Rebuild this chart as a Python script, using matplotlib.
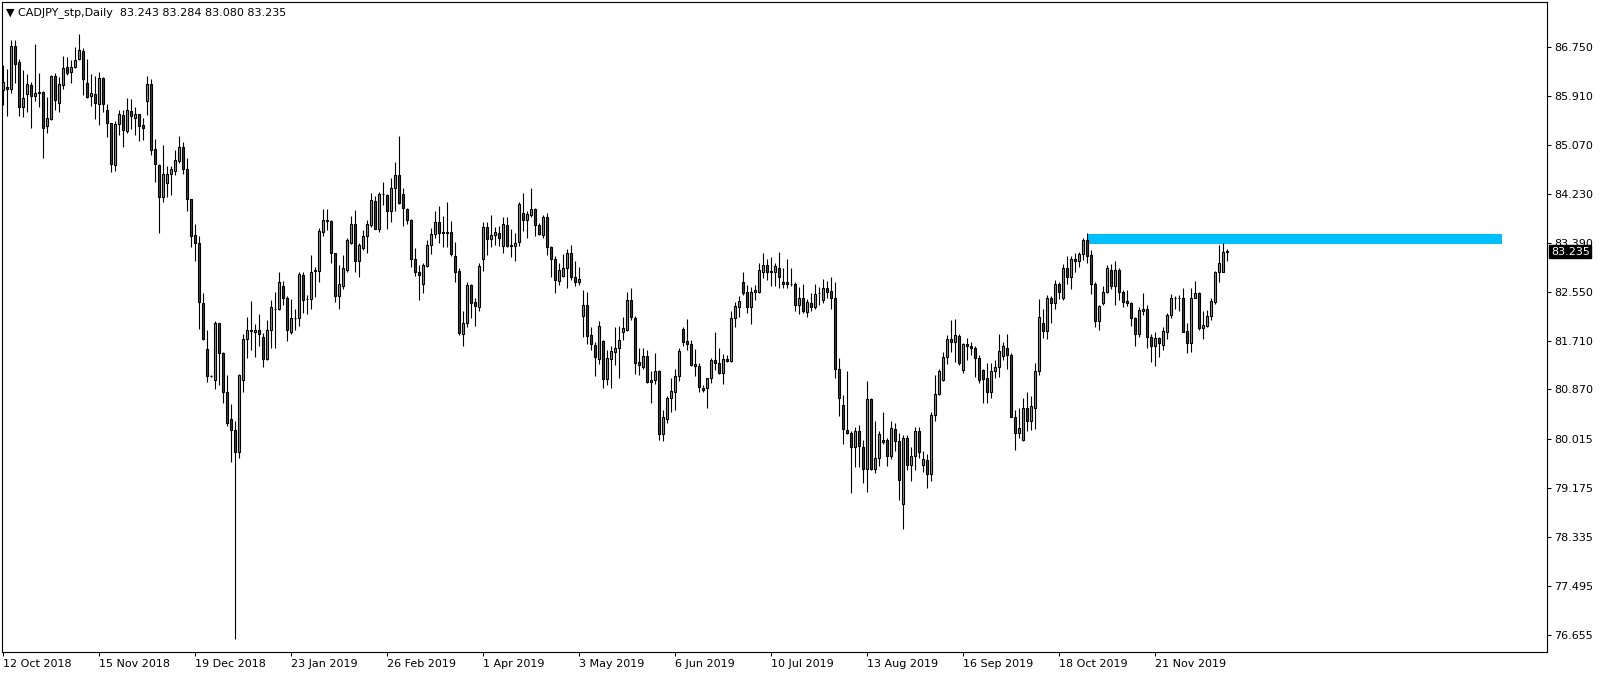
import numpy as np
import matplotlib.pyplot as plt
import matplotlib.transforms as mtransforms
from matplotlib.patches import Rectangle

# daily CADJPY bars, 12 Oct 2018 onwards
opens = [86.02, 86.07, 86.03, 86.77, 86.49, 85.72, 85.94, 86.10, 85.92, 85.97,
         85.98, 85.39, 85.51, 86.26, 85.80, 86.10, 86.41, 86.32, 86.41, 86.54,
         86.69, 86.13, 85.91, 85.94, 85.77, 86.22, 85.67, 85.44, 84.72, 85.43,
         85.59, 85.31, 85.65, 85.54, 85.60, 85.41, 85.83, 86.12, 85.00, 84.73,
         84.17, 84.41, 84.57, 84.63, 84.80, 85.03, 84.65, 84.14, 83.52, 83.38,
         82.35, 81.56, 81.11, 81.04, 82.01, 81.49, 80.82, 80.36, 80.17, 79.79,
         81.04, 81.73, 81.88, 81.85, 81.89, 81.77, 81.39, 81.89, 82.25, 82.25,
         82.64, 82.44, 81.86, 82.09, 82.09, 82.84, 82.42, 82.42, 82.91, 82.91,
         83.58, 83.77, 83.77, 83.21, 82.48, 82.64, 82.93, 83.39, 83.72, 83.07,
         83.30, 83.50, 83.70, 84.11, 83.63, 84.22, 84.21, 83.94, 84.34, 84.56,
         84.22, 83.97, 83.79, 83.12, 82.88, 82.68, 83.00, 83.35, 83.54, 83.74,
         83.56, 83.57, 83.57, 83.17, 82.91, 81.82, 82.01, 82.67, 82.37, 82.29,
         83.12, 83.66, 83.45, 83.52, 83.55, 83.34, 83.70, 83.34, 83.34, 83.41,
         83.91, 83.78, 83.86, 83.97, 83.70, 83.52, 83.84, 83.31, 83.12, 82.74,
         82.82, 82.95, 83.21, 82.81, 82.72, 82.14, 82.32, 81.81, 81.63, 81.39,
         81.70, 81.05, 81.39, 81.52, 81.58, 81.86, 81.89, 82.41, 82.10, 81.34,
         81.26, 81.45, 81.00, 81.03, 81.19, 80.10, 80.37, 80.72, 80.83, 81.11,
         81.91, 81.70, 81.66, 81.31, 81.27, 80.89, 80.89, 81.06, 81.38, 81.32,
         81.15, 81.39, 81.36, 82.09, 82.28, 82.71, 82.55, 82.28, 82.54, 82.55,
         82.89, 83.01, 82.90, 82.88, 82.95, 82.71, 82.71, 82.69, 82.69, 82.33,
         82.45, 82.20, 82.35, 82.28, 82.52, 82.40, 82.61, 82.56, 82.44, 81.22,
         80.60, 80.17, 80.13, 79.88, 80.16, 79.89, 79.50, 80.70, 79.50, 79.69,
         80.01, 80.01, 79.73, 80.19, 79.99, 78.91, 80.03, 79.58, 79.73, 80.16,
         79.57, 79.66, 79.42, 80.43, 80.79, 81.03, 81.42, 81.73, 81.69, 81.79,
         81.20, 81.65, 81.62, 81.59, 81.41, 81.21, 81.06, 80.82, 81.19, 81.25,
         81.45, 81.59, 81.47, 80.39, 80.13, 80.00, 80.55, 80.33, 80.55, 81.18,
         82.02, 81.88, 82.45, 82.36, 82.69, 82.45, 82.95, 82.81, 83.12, 83.07,
         83.20, 83.44, 83.18, 82.69, 82.04, 82.35, 82.54, 82.93, 82.65, 82.93,
         82.54, 82.39, 82.35, 82.09, 81.82, 82.22, 82.26, 81.78, 81.61, 81.75,
         81.63, 81.86, 82.15, 82.44, 82.44, 82.45, 81.88, 81.67, 82.45, 82.52,
         81.92, 81.96, 82.13, 82.38, 82.88, 82.89, 83.243]
highs = [86.45, 86.37, 86.87, 86.87, 86.54, 86.36, 86.29, 86.15, 86.81, 86.31,
         85.99, 85.90, 86.27, 86.30, 86.24, 86.60, 86.58, 86.53, 86.75, 86.98,
         86.73, 86.54, 86.29, 86.26, 86.33, 86.24, 85.78, 85.45, 85.49, 85.68,
         85.67, 85.88, 85.86, 85.72, 85.61, 85.53, 86.25, 86.20, 85.18, 84.74,
         85.07, 84.71, 84.71, 84.98, 85.22, 85.13, 84.84, 84.14, 83.71, 83.51,
         82.52, 81.90, 81.12, 82.05, 82.02, 81.52, 81.12, 80.62, 80.33, 81.13,
         81.82, 82.11, 82.39, 82.00, 82.17, 81.84, 82.06, 82.41, 82.55, 82.88,
         82.73, 82.48, 82.42, 82.25, 82.89, 82.89, 82.50, 83.18, 82.97, 83.64,
         83.97, 83.97, 83.78, 83.22, 83.01, 83.18, 83.47, 83.85, 83.95, 83.38,
         83.61, 83.79, 84.25, 84.19, 84.27, 84.44, 84.22, 84.50, 84.77, 85.23,
         84.33, 83.98, 83.80, 83.30, 83.01, 83.05, 83.44, 83.64, 83.94, 84.02,
         83.85, 84.09, 83.77, 83.41, 82.95, 82.22, 82.71, 82.68, 82.45, 83.04,
         83.75, 83.74, 83.87, 83.66, 83.68, 83.84, 83.84, 83.62, 83.56, 84.09,
         84.25, 83.94, 84.34, 83.99, 83.73, 83.87, 83.90, 83.34, 83.16, 83.05,
         83.20, 83.28, 83.35, 83.07, 82.98, 82.58, 82.55, 81.95, 81.69, 82.05,
         81.72, 81.54, 81.61, 81.95, 81.96, 82.12, 82.55, 82.61, 82.13, 81.59,
         81.59, 81.55, 81.18, 81.49, 81.21, 80.52, 80.75, 81.06, 81.22, 81.58,
         81.95, 82.08, 81.72, 81.57, 81.33, 80.95, 81.07, 81.41, 81.86, 81.59,
         81.48, 81.46, 82.22, 82.38, 82.47, 82.89, 82.67, 82.63, 82.67, 83.04,
         83.21, 83.11, 83.14, 83.05, 83.23, 82.95, 83.12, 82.95, 82.71, 82.63,
         82.69, 82.42, 82.52, 82.69, 82.63, 82.76, 82.73, 82.80, 82.72, 81.41,
         80.78, 81.18, 80.15, 80.22, 80.26, 80.01, 81.02, 80.72, 80.33, 80.15,
         80.49, 80.03, 80.32, 80.30, 80.13, 80.09, 80.09, 79.89, 80.23, 80.23,
         79.82, 79.76, 80.49, 81.12, 81.22, 81.52, 81.81, 82.06, 82.08, 81.83,
         81.67, 81.75, 81.69, 81.61, 81.46, 81.23, 81.32, 81.32, 81.38, 81.82,
         81.69, 81.82, 81.49, 80.52, 80.55, 80.72, 80.82, 80.75, 81.32, 82.43,
         82.25, 82.49, 82.48, 82.75, 82.72, 83.02, 83.16, 83.16, 83.22, 83.24,
         83.48, 83.55, 83.26, 82.71, 82.32, 82.64, 83.01, 83.03, 83.08, 82.95,
         82.58, 82.58, 82.38, 82.12, 82.28, 82.52, 82.32, 81.82, 81.86, 81.78,
         81.94, 82.18, 82.51, 82.48, 82.49, 82.61, 82.01, 82.61, 82.74, 82.55,
         82.22, 82.24, 82.44, 82.91, 83.35, 83.38, 83.284]
lows = [85.76, 85.56, 85.96, 86.14, 85.56, 85.55, 85.64, 85.36, 85.82, 85.72,
        84.84, 85.27, 85.50, 85.68, 85.63, 86.03, 86.27, 86.14, 86.40, 86.53,
        85.93, 85.87, 85.74, 85.51, 85.42, 85.64, 85.20, 84.60, 84.63, 85.25,
        85.04, 85.28, 85.35, 85.24, 85.14, 85.16, 85.59, 84.90, 84.44, 83.55,
        84.09, 84.18, 84.21, 84.55, 84.76, 84.58, 83.94, 83.32, 83.07, 81.91,
        81.72, 81.00, 81.09, 80.88, 80.95, 80.64, 80.25, 79.63, 76.59, 79.69,
        80.83, 81.41, 81.55, 81.42, 81.61, 81.26, 81.37, 81.58, 81.59, 82.24,
        82.32, 81.71, 81.82, 81.90, 81.96, 82.19, 82.17, 82.25, 82.46, 82.71,
        83.51, 83.61, 83.05, 82.38, 82.25, 82.59, 82.88, 83.37, 82.89, 82.80,
        83.26, 83.22, 83.67, 83.62, 83.58, 84.04, 83.62, 83.74, 83.94, 84.06,
        83.68, 83.72, 82.98, 82.82, 82.40, 82.53, 82.98, 83.20, 83.47, 83.38,
        83.32, 83.32, 83.16, 82.71, 81.81, 81.61, 81.95, 82.09, 81.96, 82.22,
        82.91, 83.18, 83.32, 83.35, 83.34, 83.21, 83.31, 83.15, 83.08, 83.34,
        83.60, 83.47, 83.84, 83.51, 83.52, 83.48, 83.18, 82.81, 82.53, 82.67,
        82.80, 82.61, 82.75, 82.65, 82.67, 81.77, 81.65, 81.55, 81.10, 81.31,
        80.90, 80.95, 80.90, 81.29, 81.07, 81.72, 81.88, 82.06, 81.14, 81.12,
        81.23, 80.98, 80.64, 80.96, 80.00, 79.98, 80.30, 80.49, 80.52, 81.02,
        81.61, 81.54, 81.27, 81.11, 80.83, 80.83, 80.56, 80.98, 81.21, 81.14,
        80.96, 81.35, 81.34, 81.95, 82.11, 82.49, 82.19, 82.00, 82.40, 82.52,
        82.78, 82.75, 82.64, 82.64, 82.61, 82.61, 82.61, 82.64, 82.22, 82.17,
        82.18, 82.12, 82.21, 82.26, 82.32, 82.35, 82.44, 82.26, 81.06, 80.41,
        79.93, 80.11, 79.09, 79.54, 79.54, 79.26, 79.11, 79.49, 79.44, 79.56,
        79.93, 79.56, 79.68, 79.81, 78.97, 78.48, 79.48, 79.30, 79.48, 79.69,
        79.46, 79.17, 79.30, 80.32, 80.78, 81.02, 81.30, 81.52, 81.35, 81.29,
        81.16, 81.38, 81.46, 81.09, 80.98, 80.64, 80.64, 80.72, 81.06, 81.09,
        81.38, 81.22, 80.39, 79.83, 80.03, 79.99, 80.15, 80.17, 80.19, 81.12,
        81.75, 81.73, 82.02, 82.26, 82.42, 82.41, 82.68, 82.59, 82.89, 82.98,
        83.10, 83.05, 82.51, 81.94, 81.90, 82.32, 82.52, 82.59, 82.32, 82.41,
        82.29, 82.30, 81.96, 81.61, 81.78, 82.15, 81.58, 81.35, 81.27, 81.43,
        81.55, 81.73, 82.09, 82.26, 82.21, 81.85, 81.50, 81.52, 82.44, 81.90,
        81.73, 81.95, 82.06, 82.34, 82.72, 82.88, 83.080]
closes = [86.16, 86.03, 86.77, 86.47, 85.72, 85.87, 86.12, 85.92, 85.96, 85.98,
          85.36, 85.53, 86.26, 85.84, 86.12, 86.39, 86.31, 86.41, 86.53, 86.70,
          86.20, 85.90, 85.96, 85.79, 86.22, 85.77, 85.44, 84.74, 85.43, 85.60,
          85.32, 85.68, 85.56, 85.60, 85.40, 85.37, 86.12, 84.98, 84.74, 84.17,
          84.57, 84.57, 84.66, 84.82, 85.03, 84.65, 84.14, 83.51, 83.38, 82.37,
          81.73, 81.11, 81.10, 82.02, 81.49, 80.82, 80.30, 80.17, 79.80, 81.12,
          81.73, 81.89, 81.89, 81.89, 81.82, 81.39, 81.90, 82.28, 82.26, 82.72,
          82.45, 81.89, 82.09, 82.10, 82.85, 82.41, 82.42, 82.89, 82.92, 83.60,
          83.79, 83.78, 83.21, 82.48, 82.68, 82.95, 83.44, 83.72, 83.07, 83.35,
          83.51, 83.71, 84.13, 83.63, 84.22, 84.23, 83.94, 84.34, 84.56, 84.08,
          83.98, 83.78, 83.12, 82.89, 82.83, 83.01, 83.36, 83.54, 83.74, 83.55,
          83.57, 83.56, 83.19, 82.89, 81.84, 82.02, 82.67, 82.36, 82.31, 82.99,
          83.66, 83.45, 83.52, 83.58, 83.47, 83.71, 83.34, 83.34, 83.39, 84.05,
          83.78, 83.89, 83.97, 83.70, 83.54, 83.84, 83.31, 83.12, 82.75, 82.92,
          82.95, 83.21, 82.81, 82.72, 82.76, 82.32, 81.79, 81.65, 81.43, 81.96,
          81.05, 81.41, 81.53, 81.58, 81.72, 81.92, 82.41, 82.11, 81.33, 81.29,
          81.45, 81.00, 81.04, 81.19, 80.10, 80.39, 80.72, 80.84, 81.11, 81.53,
          81.69, 81.66, 81.29, 81.27, 80.92, 80.86, 81.06, 81.38, 81.32, 81.15,
          81.39, 81.36, 82.09, 82.30, 82.39, 82.53, 82.28, 82.55, 82.58, 82.92,
          83.01, 82.89, 82.89, 82.99, 82.80, 82.68, 82.68, 82.68, 82.33, 82.45,
          82.21, 82.37, 82.28, 82.51, 82.53, 82.61, 82.55, 82.45, 81.22, 80.72,
          80.19, 80.12, 79.88, 80.16, 79.90, 79.50, 80.70, 79.50, 79.69, 80.10,
          79.96, 79.73, 80.20, 79.99, 79.31, 80.03, 79.58, 79.73, 80.16, 79.80,
          79.67, 79.42, 80.43, 80.80, 81.19, 81.42, 81.73, 81.69, 81.81, 81.33,
          81.65, 81.61, 81.59, 81.41, 81.04, 81.05, 80.82, 81.19, 81.25, 81.53,
          81.62, 81.47, 80.39, 80.13, 80.20, 80.56, 80.33, 80.59, 81.19, 82.12,
          81.88, 82.45, 82.36, 82.69, 82.55, 82.95, 82.81, 83.12, 83.07, 83.20,
          83.44, 83.17, 82.69, 82.04, 82.30, 82.54, 82.95, 82.65, 82.93, 82.55,
          82.38, 82.35, 82.09, 81.82, 82.24, 82.26, 81.78, 81.61, 81.75, 81.67,
          81.88, 82.15, 82.45, 82.45, 82.44, 81.86, 81.67, 82.45, 82.52, 81.92,
          81.98, 82.13, 82.39, 82.88, 83.04, 83.23, 83.235]

date_labels = ['12 Oct 2018', '15 Nov 2018', '19 Dec 2018', '23 Jan 2019', '26 Feb 2019',
               '1 Apr 2019', '3 May 2019', '6 Jun 2019', '10 Jul 2019', '13 Aug 2019',
               '16 Sep 2019', '18 Oct 2019', '21 Nov 2019']
price_ticks = [86.750, 85.910, 85.070, 84.230, 83.390, 82.550, 81.710,
               80.870, 80.015, 79.175, 78.335, 77.495, 76.655]

# resistance zone
zone_low = 83.375
zone_high = 83.54
zone_start = 271
zone_end = 374.7

W, H = 1604, 678
fig = plt.figure(figsize=(W / 100, H / 100), dpi=100)
ax = fig.add_axes([2 / W, 26 / H, 1545 / W, 650 / H])

o = np.array(opens)
h = np.array(highs)
l = np.array(lows)
c = np.array(closes)
x = np.arange(len(o))

ax.add_patch(Rectangle((zone_start, zone_low), zone_end - zone_start, zone_high - zone_low,
                       facecolor='#00bfff', edgecolor='none', zorder=1))

ax.vlines(x, l, h, color='black', lw=0.8, zorder=2)
cols = np.where(c > o, '#1ee01e', np.where(c < o, '#d00000', 'black'))
bottom = np.minimum(o, c)
height = np.maximum(np.abs(c - o), 0.004)
ax.bar(x, height, bottom=bottom, width=0.55, color=cols, edgecolor='black',
       linewidth=0.8, zorder=3)

ax.set_xlim(-0.33, 385.9)
ax.set_ylim(76.36, 87.527)

ax.yaxis.tick_right()
ax.set_yticks(price_ticks)
ax.set_yticklabels(['%.3f' % v for v in price_ticks])
ax.set_xticks(np.arange(0, 24 * len(date_labels), 24))
ax.set_xticklabels(date_labels, ha='left')
ax.tick_params(axis='both', labelsize=8, width=0.75, length=3, pad=2, colors='black')

for s in ax.spines.values():
    s.set_linewidth(0.8)

# last price tag
tr = mtransforms.blended_transform_factory(ax.transAxes, ax.transData)
ax.text(1.0025, closes[-1], '%.3f' % closes[-1], transform=tr, color='white', fontsize=8,
        va='center', ha='left', zorder=10, clip_on=False,
        bbox=dict(boxstyle='square,pad=0.15', fc='black', ec='black'))

fig.text(6 / W, 1 - 13 / H, '\u25bc CADJPY_stp,Daily  83.243 83.284 83.080 83.235',
         fontsize=8, va='center', ha='left')

fig.savefig('out.png', dpi=100)
